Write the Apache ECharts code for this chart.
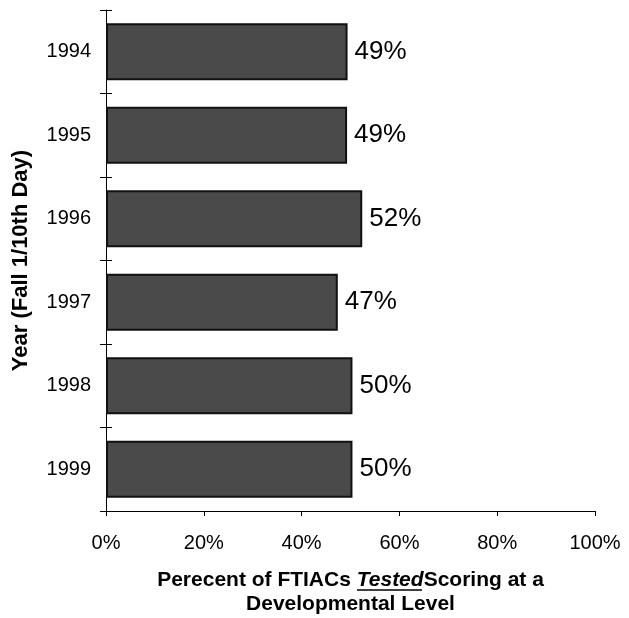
<!DOCTYPE html>
<html>
<head>
<meta charset="utf-8">
<script src="https://cdn.jsdelivr.net/npm/echarts@6/dist/echarts.min.js"></script>
<style>
    html, body { margin: 0; padding: 0; background: #fff; }
    #chart { width: 629px; height: 618px; }
</style>
</head>
<body>
<div id="chart"></div>
<script>
    // years, top to bottom
    var years = ['1994', '1995', '1996', '1997', '1998', '1999'];
    // percent of FTIACs tested scoring at a developmental level
    var pctDevelopmental = [49.4, 49.3, 52.4, 47.4, 50.4, 50.4];
    var xTicks = [0, 20, 40, 60, 80, 100];

    var chart = echarts.init(document.getElementById('chart'));
    var font = 'Liberation Sans, Arial, sans-serif';

    var option = {
        animation: false,
        grid: {left: 106, right: 34, top: 10, bottom: 107, outerBoundsMode: 'none'},
        xAxis: {
            type: 'value',
            min: xTicks[0],
            max: xTicks[xTicks.length - 1],
            interval: 20,
            splitLine: {show: false},
            axisLine: {show: true, lineStyle: {color: '#000', width: 1}},
            axisTick: {show: true, length: 5, lineStyle: {color: '#000'}},
            axisLabel: {
                formatter: '{value}%', color: '#000', fontSize: 20,
                fontFamily: font, margin: 22
            },
            name: '{a|Perecent of FTIACs }{t|Tested}{a|Scoring at a}\n{a|Developmental Level}',
            nameLocation: 'middle',
            nameGap: 57,
            nameTextStyle: {
                rich: {
                    a: {fontSize: 21, fontWeight: 'bold', fontFamily: font, color: '#000', lineHeight: 24},
                    t: {fontSize: 21, fontWeight: 'bold', fontStyle: 'italic', fontFamily: font, color: '#000', lineHeight: 24}
                }
            }
        },
        yAxis: [{
            type: 'category',
            data: years,
            inverse: true,
            axisLine: {show: true, lineStyle: {color: '#000', width: 1}},
            axisTick: {show: true, length: 6, lineStyle: {color: '#000'}},
            axisLabel: {color: '#000', fontSize: 20, fontFamily: font, margin: 15},
            name: 'Year (Fall 1/10th Day)',
            nameLocation: 'middle',
            nameGap: 74,
            nameTextStyle: {fontSize: 22, fontWeight: 'bold', fontFamily: font, color: '#000'}
        }, {
            // inside half of the crossing ticks
            type: 'category',
            data: years,
            inverse: true,
            position: 'left',
            axisLine: {show: false},
            axisLabel: {show: false},
            axisTick: {show: true, inside: true, length: 6, lineStyle: {color: '#000'}}
        }],
        series: [{
            type: 'bar',
            data: pctDevelopmental,
            barCategoryGap: '32%',
            itemStyle: {color: '#4a4a4a', borderColor: '#111', borderWidth: 2},
            label: {
                show: true, position: 'right', distance: 7,
                formatter: function (p) { return Math.round(p.value) + '%'; },
                color: '#000', fontSize: 26, fontFamily: font
            }
        }],
        graphic: [{
            // underline under "Tested"
            type: 'line',
            shape: {x1: 357, y1: 590, x2: 422, y2: 590},
            style: {stroke: '#000', lineWidth: 1.5}
        }]
    };

    chart.setOption(option);
</script>
</body>
</html>
